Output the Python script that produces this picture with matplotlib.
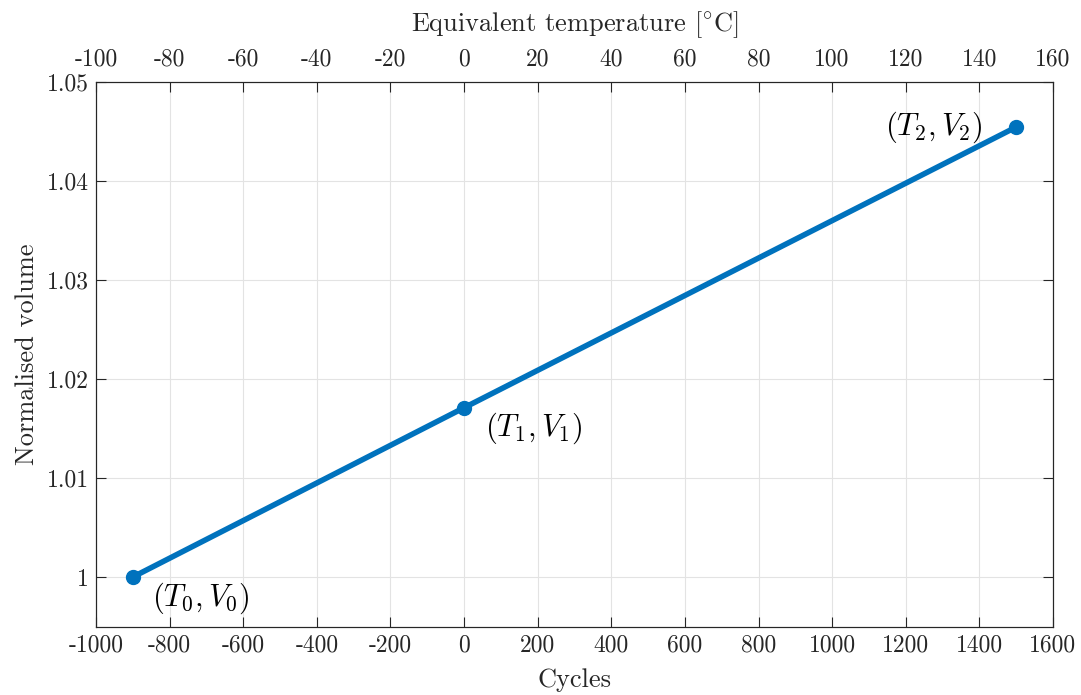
import matplotlib
matplotlib.use("Agg")
import matplotlib.pyplot as plt

plt.rcParams['font.family'] = 'serif'
plt.rcParams['font.serif'] = ['cmr10']
plt.rcParams['mathtext.fontset'] = 'cm'
plt.rcParams['axes.unicode_minus'] = False

cycles = [-900, 0, 1500]
volume = [1.0, 1.0171, 1.04545]
point_labels = [r'$(T_0,V_0)$', r'$(T_1,V_1)$', r'$(T_2,V_2)$']
xticks = list(range(-1000, 1601, 200))
yticks = [1.0, 1.01, 1.02, 1.03, 1.04, 1.05]
ytick_labels = ['1', '1.01', '1.02', '1.03', '1.04', '1.05']
top_ticks = list(range(-100, 161, 20))

blue = '#0072BD'
dark = '#262626'

fig = plt.figure(figsize=(10.81, 6.95), dpi=100)
ax = fig.add_axes([0.0888, 0.0978, 0.9741 - 0.0888, 0.882 - 0.0978])

ax.plot(cycles, volume, color=blue, lw=4.0, marker='o', ms=10, zorder=3,
        solid_capstyle='round')

offsets = [(14, -15), (15, -15), (-24, 0)]
has = ['left', 'left', 'right']
for x, y, lab, off, ha in zip(cycles, volume, point_labels, offsets, has):
    ax.annotate(lab, (x, y), xytext=off, textcoords='offset points',
                ha=ha, va='center', fontsize=22, color='black')

ax.set_xlim(-1000, 1600)
ax.set_ylim(0.99495, 1.05)
ax.set_xticks(xticks)
ax.set_xticklabels([str(v) for v in xticks])
ax.set_yticks(yticks)
ax.set_yticklabels(ytick_labels)
ax.grid(True, color='#e3e3e3', lw=0.8)
ax.set_axisbelow(True)
ax.tick_params(direction='in', length=7.5, width=0.8, labelsize=17,
               colors=dark, right=True, pad=5)
for s in ax.spines.values():
    s.set_color(dark)
    s.set_linewidth(0.8)
ax.set_xlabel('Cycles', fontsize=19, color=dark, labelpad=9)
ax.set_ylabel('Normalised volume', fontsize=19, color=dark, labelpad=6)

ax2 = ax.twiny()
ax2.set_xlim(-100, 160)
ax2.set_xticks(top_ticks)
ax2.set_xticklabels([str(v) for v in top_ticks])
ax2.tick_params(direction='in', length=7.5, width=0.8, labelsize=17,
                colors=dark, pad=8)
for s in ax2.spines.values():
    s.set_color(dark)
    s.set_linewidth(0.8)
ax2.set_xlabel(r'Equivalent temperature [$^{\circ}$C]', fontsize=19,
               color=dark, labelpad=13)

fig.savefig('out.png', dpi=100)
